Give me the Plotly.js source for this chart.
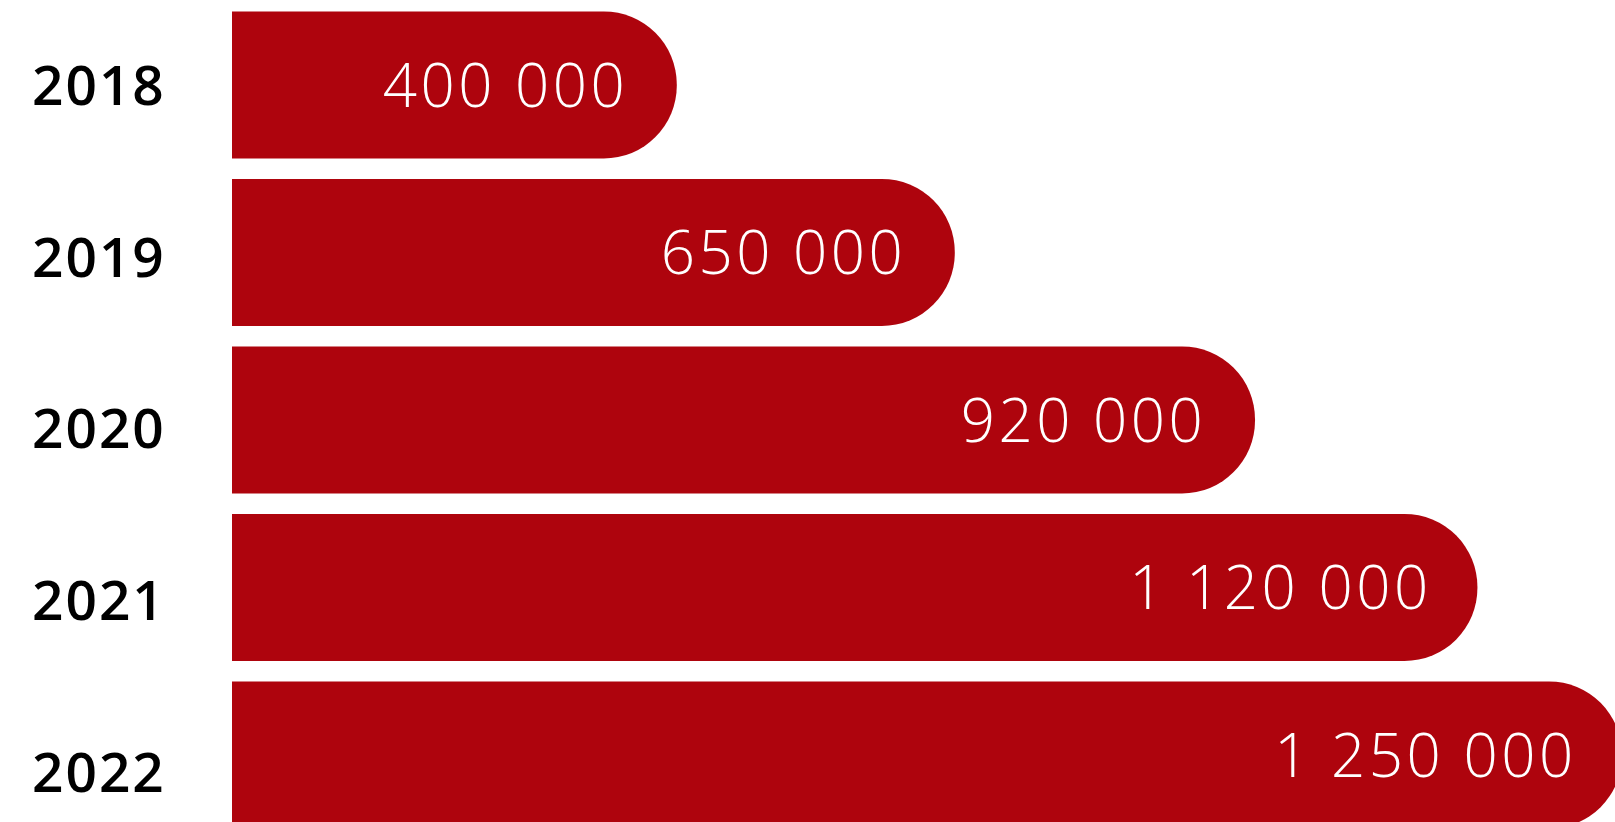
<!DOCTYPE html>
<html>
<head>
<meta charset="utf-8">
<script src="https://cdn.plot.ly/plotly-3.0.1.min.js"></script>
<style>
  html, body { margin: 0; padding: 0; background: #ffffff; overflow: hidden; }
  #chart { width: 1640px; height: 822px; }
  #chart g.annotation[data-index="0"] text, #chart g.annotation[data-index="1"] text,
  #chart g.annotation[data-index="2"] text, #chart g.annotation[data-index="3"] text,
  #chart g.annotation[data-index="4"] text { letter-spacing: 2px; }
  #chart g.annotation[data-index="5"] text, #chart g.annotation[data-index="6"] text,
  #chart g.annotation[data-index="7"] text, #chart g.annotation[data-index="8"] text,
  #chart g.annotation[data-index="9"] text { letter-spacing: 3.5px; }
</style>
</head>
<body>
<div id="chart"></div>
<script>
const years = ["2018", "2019", "2020", "2021", "2022"];
const values = [400000, 650000, 920000, 1120000, 1250000];
const valueLabels = ["400 000", "650 000", "920 000", "1 120 000", "1 250 000"];

const barColor = "#AE040D";

const trace = {
  type: "bar",
  orientation: "h",
  x: values,
  y: years,
  marker: { color: barColor, line: { width: 0 } },
  hoverinfo: "skip"
};

// On a category axis, annotation positions are category indices.
// Year labels first (indices 0-4), then value labels (indices 5-9).
const annotations = [];
years.forEach(function (yr, i) {
  annotations.push({
    xref: "paper", yref: "y",
    x: -0.0944, y: i,
    text: yr,
    showarrow: false,
    xanchor: "center", yanchor: "middle",
    yshift: -6.8 - (i - 2) * 4.25,
    font: { family: "Open Sans, sans-serif", size: 55, color: "#000000", weight: 600 }
  });
});
years.forEach(function (yr, i) {
  annotations.push({
    xref: "x", yref: "y",
    x: values[i], y: i,
    text: valueLabels[i],
    showarrow: false,
    xanchor: "right", yanchor: "middle",
    xshift: -59,
    yshift: 1,
    font: { family: "Open Sans, sans-serif", size: 60, color: "#ffffff", weight: 300 }
  });
});

const layout = {
  width: 1640,
  height: 822,
  margin: { l: 232, r: 0, t: 0, b: 0, pad: 0 },
  paper_bgcolor: "#ffffff",
  plot_bgcolor: "#ffffff",
  showlegend: false,
  bargap: 0.122,
  barcornerradius: "50%",
  xaxis: { range: [0, 1266200], visible: false, showgrid: false, zeroline: false, fixedrange: true },
  yaxis: { type: "category", range: [4.40, -0.507], showticklabels: false, showgrid: false, zeroline: false, fixedrange: true },
  annotations: annotations
};

Plotly.newPlot("chart", [trace], layout, { displayModeBar: false, staticPlot: true });
</script>
</body>
</html>
